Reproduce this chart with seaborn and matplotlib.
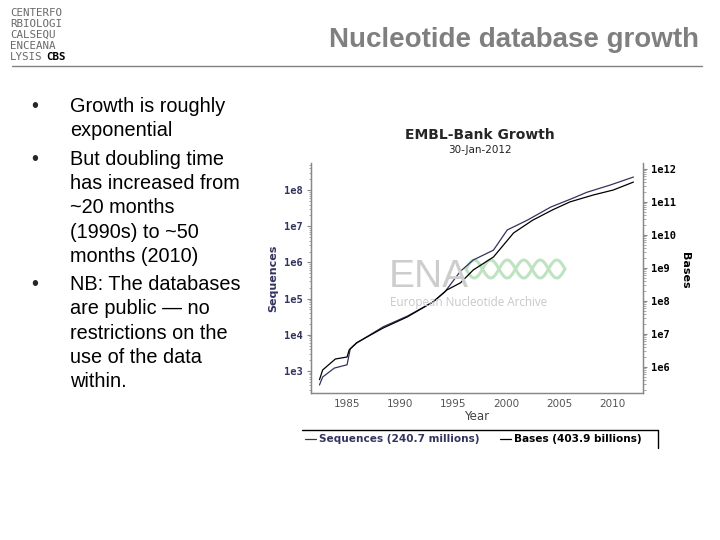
"""
Diapo : croissance de la base nucléotidique EMBL-Bank (1982-2012).
"""
import numpy as np
import pandas as pd
import matplotlib
matplotlib.use("Agg")
import matplotlib.pyplot as plt
from matplotlib.lines import Line2D
from matplotlib.ticker import LogLocator, NullFormatter
import seaborn as sns

# ── données ───────────────────────────────────────────────
annees_seq = [1982.4, 1982.7, 1983.8, 1985.0, 1985.3, 1985.9, 1988.4, 1990.7, 1993.1, 1994.2,
              1995.7, 1996.9, 1998.8, 2000.1, 2002.0, 2004.2, 2006.3, 2007.6, 2009.8, 2012.0]
sequences = [410, 680, 1200, 1480, 4070, 5900, 16600, 33000, 81000, 151000,
             575000, 1.17e6, 2.19e6, 7.9e6, 1.48e7, 3.4e7, 6.0e7, 8.7e7, 1.38e8, 2.3e8]

annees_bases = [1982.4, 1982.7, 1983.9, 1985.0, 1985.2, 1985.9, 1988.4, 1990.7, 1993.1, 1994.4,
                1995.7, 1996.9, 1998.8, 2000.7, 2002.5, 2004.4, 2006.0, 2008.2, 2010.1, 2012.0]
bases = [4.1e5, 8.1e5, 1.74e6, 2.0e6, 3.3e6, 5.4e6, 1.51e7, 3.3e7, 9.3e7, 2.14e8,
         3.55e8, 8.7e8, 2.14e9, 1.15e10, 2.8e10, 5.8e10, 1.0e11, 1.62e11, 2.3e11, 4.0e11]

ticks_annees = [1985, 1990, 1995, 2000, 2005, 2010]
ticks_seq = [1e3, 1e4, 1e5, 1e6, 1e7, 1e8]
ticks_bases = [1e6, 1e7, 1e8, 1e9, 1e10, 1e11, 1e12]

puces = [
    ["Growth is roughly", "exponential"],
    ["But doubling time", "has increased from", "~20 months", "(1990s) to ~50", "months (2010)"],
    ["NB: The databases", "are public — no", "restrictions on the", "use of the data", "within."],
]
logo = ["CENTERFO", "RBIOLOGI", "CALSEQU", "ENCEANA"]

# ── style ─────────────────────────────────────────────────
sns.set_style("white")
plt.rcParams["font.family"] = ["Liberation Sans", "DejaVu Sans"]
NAVY = "#33335f"
GRIS = "#7f7f7f"

W, H = 720, 540
fig = plt.figure(figsize=(7.2, 5.4), dpi=100)


def px(x, y):
    return x / W, 1 - y / H


# ── entête de la diapo ───────────────────────────────────
fig.text(*px(10, 8.5), "\n".join(logo), fontsize=7.8, family="DejaVu Sans Mono",
         color="#6a6a6a", va="top", ha="left", linespacing=1.10)
fig.text(*px(10, 59.5), "LYSIS", fontsize=7.8, family="DejaVu Sans Mono",
         color="#6a6a6a", va="baseline", ha="left")
fig.text(*px(46, 59.5), "CBS", fontsize=7.8, family="DejaVu Sans Mono", fontweight="bold",
         color="black", va="baseline", ha="left")
fig.add_artist(Line2D([12 / W, 702 / W], [1 - 66 / H] * 2, color="#808080", lw=1))
fig.text(*px(699, 47), "Nucleotide database growth", fontsize=20, fontweight="bold",
         color=GRIS, ha="right", va="baseline")

# ── puces ─────────────────────────────────────────────────
y = 112
for bloc in puces:
    for j, ligne in enumerate(bloc):
        if j == 0:
            fig.text(*px(31, y), "•", fontsize=14.3, ha="left", va="baseline")
        fig.text(*px(70, y), ligne, fontsize=14.3, ha="left", va="baseline", color="black")
        y += 24.3
    y += 4.0

# ── graphique EMBL-Bank ───────────────────────────────────
x0, x1, y0, y1 = 311, 643, 163, 393
ax = fig.add_axes([x0 / W, 1 - y1 / H, (x1 - x0) / W, (y1 - y0) / H])
ax2 = ax.twinx()

df_seq = pd.DataFrame({"annee": annees_seq, "n": sequences})
df_bases = pd.DataFrame({"annee": annees_bases, "n": bases})

# filigrane ENA
fig.text(*px(389, 287), "ENA", fontsize=28, color="#cdcdcd", family="Liberation Sans",
         ha="left", va="baseline", zorder=0)
fig.text(*px(390, 306), "European Nucleotide Archive", fontsize=8.4, color="#c8c8c8",
         family="Open Sans", ha="left", va="baseline", zorder=0)
vague = np.linspace(0, 1, 120)
for phase in (0, np.pi):
    fig.add_artist(Line2D((466 + 99 * vague) / W,
                          1 - (269 + 9 * np.sin(vague * 6 * np.pi + phase)) / H,
                          color="#bfe3c0", lw=2.2, zorder=0))

ax.set_yscale("log")
ax2.set_yscale("log")
sns.lineplot(data=df_seq, x="annee", y="n", ax=ax, color=NAVY, lw=0.9)
sns.lineplot(data=df_bases, x="annee", y="n", ax=ax2, color="black", lw=0.9)

ax.set_xlim(1981.6, 2012.9)
ax.set_ylim(10 ** 2.39, 10 ** 8.75)
ax2.set_ylim(10 ** 5.21, 10 ** 12.18)
ax.patch.set_alpha(0)

ax.set_xticks(ticks_annees, [str(a) for a in ticks_annees], family="DejaVu Sans",
              fontsize=7.5, color="#555555")
ax.tick_params(axis="x", length=0, pad=4)
ax.set_yticks(ticks_seq, [f"1e{int(np.log10(v))}" for v in ticks_seq],
              family="DejaVu Sans Mono", fontweight="bold", fontsize=7.5, color=NAVY)
ax2.set_yticks(ticks_bases, [f"1e{int(np.log10(v))}" for v in ticks_bases],
               family="DejaVu Sans Mono", fontweight="bold", fontsize=7.5, color="black")
for a in (ax, ax2):
    a.yaxis.set_minor_locator(LogLocator(subs=np.arange(2, 10)))
    a.yaxis.set_minor_formatter(NullFormatter())
    a.tick_params(axis="y", which="major", length=3, width=0.8, color="#888888",
                  direction="out", pad=3)
    a.tick_params(axis="y", which="minor", length=1.8, width=0.6, color="#999999",
                  direction="out")
    a.set_xlabel("")
    a.set_ylabel("")
    a.spines["top"].set_visible(False)
    for s in ("left", "right", "bottom"):
        a.spines[s].set_color("#888888")
        a.spines[s].set_linewidth(0.9)
ax.tick_params(axis="y", left=True)
ax2.tick_params(axis="y", right=True)

fig.text(*px(480, 135), "EMBL-Bank Growth", fontsize=10, fontweight="bold",
         family="DejaVu Sans", ha="center", va="center")
fig.text(*px(480, 150), "30-Jan-2012", fontsize=7.5, family="DejaVu Sans",
         ha="center", va="center", color="#222222")
fig.text(*px(477, 416), "Year", fontsize=8.5, family="DejaVu Sans", ha="center",
         va="center", color="#444444")
fig.text(*px(273, 278), "Sequences", fontsize=8, fontweight="bold", family="DejaVu Sans",
         rotation=90, ha="center", va="center", color=NAVY)
fig.text(*px(685, 270), "Bases", fontsize=8, fontweight="bold", family="DejaVu Sans",
         rotation=-90, ha="center", va="center", color="black")

# légende (cadre partiel comme sur l'image)
fig.add_artist(Line2D([302 / W, 658 / W], [1 - 430 / H] * 2, color="black", lw=1))
fig.add_artist(Line2D([658 / W] * 2, [1 - 430 / H, 1 - 448 / H], color="black", lw=1))
fig.add_artist(Line2D([305 / W, 316 / W], [1 - 439 / H] * 2, color=NAVY, lw=0.9))
fig.add_artist(Line2D([500 / W, 511 / W], [1 - 439 / H] * 2, color="black", lw=0.9))
fig.text(*px(319, 439), "Sequences (240.7 millions)", fontsize=7.6, fontweight="bold",
         family="DejaVu Sans", color=NAVY, ha="left", va="center")
fig.text(*px(514, 439), "Bases (403.9 billions)", fontsize=7.6, fontweight="bold",
         family="DejaVu Sans", color="black", ha="left", va="center")

fig.savefig("out.png", dpi=100)
